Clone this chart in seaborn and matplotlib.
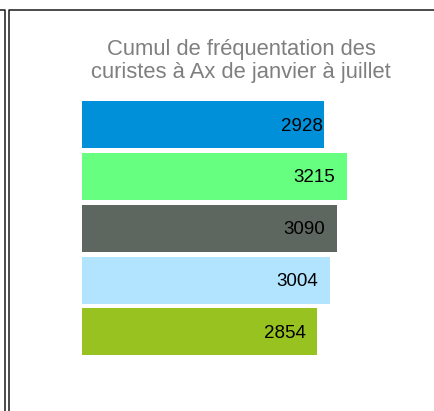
import seaborn as sns
import pandas as pd
import matplotlib.pyplot as plt
from matplotlib.lines import Line2D

# Data
series = ["Série 1", "Série 2", "Série 3", "Série 4", "Série 5"]
visitors = [2928, 3215, 3090, 3004, 2854]
colors = ["#0090da", "#66ff80", "#5e6660", "#b3e4ff", "#97c21f"]
label_offsets = [-1, -12, -12, -12, -12]  # pixels from bar end

df = pd.DataFrame({"serie": series, "curistes": visitors})

sns.set_theme(style="white")
plt.rcParams["font.family"] = ["Liberation Sans", "DejaVu Sans"]

W, H = 435, 411
fig = plt.figure(figsize=(W / 100, H / 100), dpi=100)
ax = fig.add_axes([82 / W, 1 - 357.8 / H, 330 / W, 259 / H])

sns.barplot(data=df, y="serie", x="curistes", hue="serie", palette=colors,
            saturation=1, orient="h", width=0.905, linewidth=0, legend=False, ax=ax)
ax.set_xlim(0, 4000)
ax.set_ylim(4.5, -0.5)
ax.set_axis_off()

for i, (v, off) in enumerate(zip(visitors, label_offsets)):
    ax.annotate(str(v), xy=(v, i), xytext=(off * 0.72, -1), textcoords="offset points",
                ha="right", va="center", fontsize=13.5, color="black")

fig.text(241 / W, 1 - 61 / H, "Cumul de fréquentation des\ncuristes à Ax de janvier à juillet",
         ha="center", va="center", fontsize=15.8, color="#7f7f7f", linespacing=1.12)

# frame lines (figure pixel coords)
def px_line(xs, ys):
    fig.add_artist(Line2D([x / W for x in xs], [1 - y / H for y in ys],
                          transform=fig.transFigure, color="#1a1a1a", lw=1.1))

px_line([0, 5.5, 5.5], [10.5, 10.5, H])
px_line([W, 9.5, 9.5], [10.5, 10.5, H])

fig.savefig("out.png", dpi=100)
